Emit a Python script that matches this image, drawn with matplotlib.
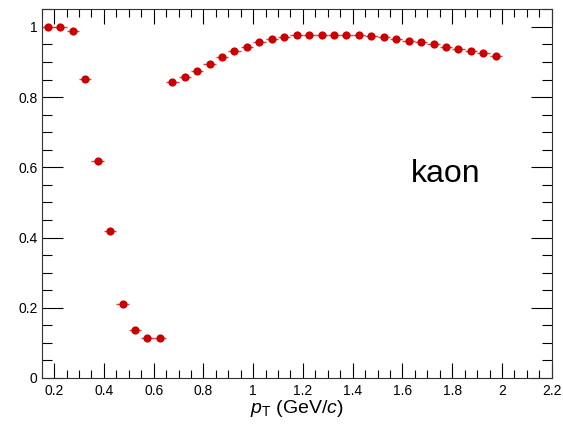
import matplotlib
matplotlib.use("Agg")
import matplotlib.pyplot as plt
from matplotlib.ticker import MultipleLocator, FixedLocator
import numpy as np

plt.rcParams['font.family'] = ['Liberation Sans', 'DejaVu Sans']
plt.rcParams['mathtext.fontset'] = 'custom'
plt.rcParams['mathtext.rm'] = 'Liberation Sans'
plt.rcParams['mathtext.it'] = 'Liberation Sans:italic'

pt = [0.175, 0.225, 0.275, 0.325, 0.375, 0.425, 0.475, 0.525, 0.575, 0.625,
      0.675, 0.725, 0.775, 0.825, 0.875, 0.925, 0.975, 1.025, 1.075, 1.125,
      1.175, 1.225, 1.275, 1.325, 1.375, 1.425, 1.475, 1.525, 1.575, 1.625,
      1.675, 1.725, 1.775, 1.825, 1.875, 1.925, 1.975]
eff = [0.999, 0.999, 0.989, 0.851, 0.619, 0.419, 0.210, 0.138, 0.113, 0.113,
       0.842, 0.858, 0.875, 0.895, 0.915, 0.930, 0.943, 0.956, 0.965, 0.972,
       0.976, 0.978, 0.978, 0.978, 0.978, 0.976, 0.973, 0.970, 0.965, 0.960,
       0.956, 0.950, 0.943, 0.938, 0.932, 0.926, 0.918]
bin_half_width = 0.025

xticks = [0.2, 0.4, 0.6, 0.8, 1.0, 1.2, 1.4, 1.6, 1.8, 2.0, 2.2]
xticklabels = ["0.2", "0.4", "0.6", "0.8", "1", "1.2", "1.4", "1.6", "1.8", "2", "2.2"]
yticks = [0, 0.2, 0.4, 0.6, 0.8, 1.0]
yticklabels = ["0", "0.2", "0.4", "0.6", "0.8", "1"]

fig = plt.figure(figsize=(5.63, 4.25), dpi=100)
ax = fig.add_axes([0.074, 0.1106, 0.906, 0.8675])

ax.errorbar(pt, eff, xerr=bin_half_width, fmt='o', color='#cc0000',
            ecolor='#cc4444', elinewidth=1.0, capsize=0, markersize=5.9,
            markeredgewidth=0)

ax.set_xlim(0.15, 2.2)
ax.set_ylim(0, 1.05)

ax.xaxis.set_major_locator(FixedLocator(xticks))
ax.set_xticklabels(xticklabels)
ax.xaxis.set_minor_locator(MultipleLocator(0.05))
ax.yaxis.set_major_locator(FixedLocator(yticks))
ax.set_yticklabels(yticklabels)
ax.yaxis.set_minor_locator(MultipleLocator(0.05))

ax.tick_params(axis='both', which='both', direction='in', top=True, right=True,
               labelsize=10, width=0.8, color='black')
ax.tick_params(axis='x', which='major', length=11, pad=4)
ax.tick_params(axis='x', which='minor', length=5.5)
ax.tick_params(axis='y', which='major', length=15, pad=3)
ax.tick_params(axis='y', which='minor', length=7.5)

for s in ax.spines.values():
    s.set_linewidth(0.8)
    s.set_color('#333333')

ax.set_xlabel(r'$p_{\mathrm{T}}$ (GeV/$c$)', fontsize=14, labelpad=0)

ax.text(1.633, 0.557, 'kaon', fontsize=23, ha='left', va='baseline')

fig.savefig('out.png', dpi=100)
